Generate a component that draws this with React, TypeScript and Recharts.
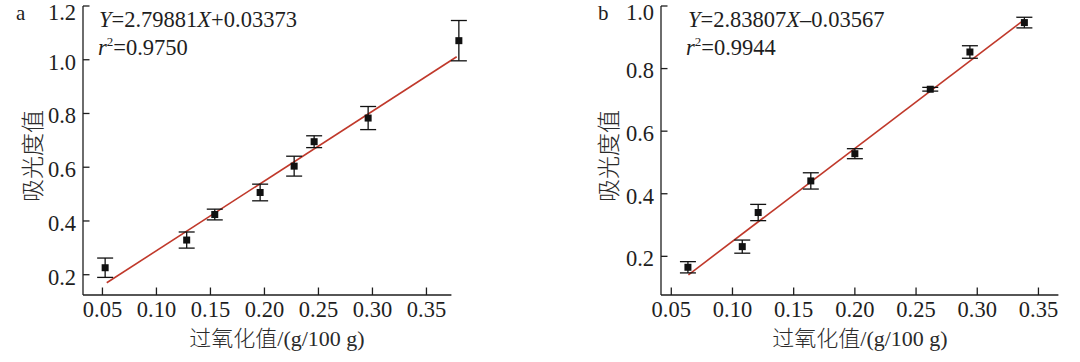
import { ComposedChart, Scatter, Line, XAxis, YAxis, ErrorBar, ReferenceLine, Label } from "recharts"

// x ticks shared by both panels
const xTicks = [0.05, 0.1, 0.15, 0.2, 0.25, 0.3, 0.35]
const yTicksA = [0.2, 0.4, 0.6, 0.8, 1.0, 1.2]
const yTicksB = [0.2, 0.4, 0.6, 0.8, 1.0]

// panel a: peroxide value vs absorbance
const pvA  = [0.0525, 0.128, 0.154, 0.196, 0.2275, 0.246, 0.296, 0.380]
const absA = [0.226, 0.329, 0.424, 0.506, 0.604, 0.695, 0.783, 1.071]
const errA = [0.036, 0.030, 0.020, 0.031, 0.037, 0.022, 0.043, 0.075]
const fitXA = [0.054, 0.378]
const fitYA = [0.170, 1.011]

// panel b
const pvB  = [0.0636, 0.108, 0.121, 0.164, 0.200, 0.2616, 0.294, 0.3385]
const absB = [0.165, 0.231, 0.340, 0.441, 0.528, 0.734, 0.853, 0.947]
const errB = [0.018, 0.021, 0.026, 0.026, 0.016, 0.006, 0.020, 0.017]
const fitXB = [0.064, 0.338]
const fitYB = [0.141, 0.955]

const SERIF = "'Liberation Serif', 'Times New Roman', serif"
const CJK = "'Liberation Serif', 'Noto Sans CJK SC', serif"
const INK = "#1e1e1e"
const RED = "#c0392b"

const toPoints = (xs: number[], ys: number[], es: number[]) =>
  xs.map((x, i) => ({ x, y: ys[i], e: es[i] }))
const toLine = (xs: number[], ys: number[]) => xs.map((x, i) => ({ x, y: ys[i] }))

const Square = (p: any) => (
  <rect x={p.cx - 3.5} y={p.cy - 3.5} width={7} height={7} fill="#111" />
)

const XTick = (p: any) => (
  <text x={p.x} y={p.y} dy="0.71em" textAnchor="middle" fontFamily={SERIF} fontSize={22.5} fill={INK}>
    {Number(p.payload.value).toFixed(2)}
  </text>
)

// top label is kept inside the picture, as in the original figure
const YTick = (p: any) => (
  <text x={p.x} y={Math.max(p.y + 2, 12.5)} dy="0.35em" textAnchor="end" fontFamily={SERIF} fontSize={22.5} fill={INK}>
    {Number(p.payload.value).toFixed(1)}
  </text>
)

interface PanelProps {
  points: { x: number; y: number; e: number }[]
  fit: { x: number; y: number }[]
  xDomain: [number, number]
  yDomain: [number, number]
  yTicks: number[]
  yAxisWidth: number
  marginRight: number
  axisEnd?: number
  xTitleX: number
  yTitleX: number
}

function Panel(p: PanelProps) {
  return (
    <ComposedChart
      width={540}
      height={362}
      margin={{ top: 6, right: p.marginRight, bottom: 0, left: 0 }}
    >
      <XAxis
        type="number"
        dataKey="x"
        domain={p.xDomain}
        ticks={xTicks}
        height={67}
        axisLine={p.axisEnd === undefined ? { stroke: INK, strokeWidth: 1.3 } : false}
        tickLine={{ stroke: INK, strokeWidth: 1.3 }}
        tickSize={-7.5}
        tickMargin={13.5}
        tick={<XTick />}
        interval={0}
      >
        <Label
          content={() => (
            <text x={p.xTitleX} y={346} textAnchor="middle" fontFamily={CJK} fontWeight={300} fontSize={22} fill="#2a2a2a">
              过氧化值/(g/100 g)
            </text>
          )}
        />
      </XAxis>
      <YAxis
        type="number"
        dataKey="y"
        domain={p.yDomain}
        ticks={p.yTicks}
        width={p.yAxisWidth}
        axisLine={{ stroke: INK, strokeWidth: 1.3 }}
        tickLine={{ stroke: INK, strokeWidth: 1.3 }}
        tickSize={-6.5}
        tickMargin={13.5}
        tick={<YTick />}
        interval={0}
      >
        <Label
          content={() => (
            <text
              x={p.yTitleX}
              y={156}
              transform={`rotate(-90 ${p.yTitleX} 156)`}
              textAnchor="middle"
              dominantBaseline="central"
              fontFamily="'Noto Sans CJK SC', sans-serif"
              fontWeight={300}
              fontSize={23}
              fill="#2a2a2a"
            >
              吸光度值
            </text>
          )}
        />
      </YAxis>
      {p.axisEnd !== undefined && (
        <ReferenceLine
          segment={[
            { x: p.xDomain[0], y: p.yDomain[0] },
            { x: p.axisEnd, y: p.yDomain[0] },
          ]}
          stroke={INK}
          strokeWidth={1.3}
          ifOverflow="visible"
        />
      )}
      <Line
        data={p.fit}
        dataKey="y"
        type="linear"
        stroke={RED}
        strokeWidth={1.6}
        dot={false}
        activeDot={false}
        isAnimationActive={false}
      />
      <Scatter data={p.points} dataKey="y" shape={Square} isAnimationActive={false}>
        <ErrorBar dataKey="e" direction="y" width={8} stroke="#111" strokeWidth={1.3} isAnimationActive={false} />
      </Scatter>
    </ComposedChart>
  )
}

export default function App() {
  return (
    <div style={{ position: "absolute", left: 0, top: 0, width: 1080, height: 362, background: "#fff" }}>
      <div style={{ position: "absolute", left: 0, top: 0 }}>
        <Panel
          points={toPoints(pvA, absA, errA)}
          fit={toLine(fitXA, fitYA)}
          xDomain={[0.032, 0.388]}
          yDomain={[0.1245, 1.2]}
          yTicks={yTicksA}
          yAxisWidth={83}
          marginRight={72.5}
          axisEnd={0.3731}
          xTitleX={277}
          yTitleX={31}
        />
      </div>
      <div style={{ position: "absolute", left: 540, top: 0 }}>
        <Panel
          points={toPoints(pvB, absB, errB)}
          fit={toLine(fitXB, fitYB)}
          xDomain={[0.0416, 0.3663]}
          yDomain={[0.0764, 1.0]}
          yTicks={yTicksB}
          yAxisWidth={121}
          marginRight={21.6}
          xTitleX={320}
          yTitleX={67}
        />
      </div>
      <svg
        width={1080}
        height={362}
        style={{ position: "absolute", left: 0, top: 0, pointerEvents: "none" }}
        fontFamily={SERIF}
        fontSize={22.5}
        fill={INK}
      >
        <text x={16} y={20} fontSize={21}>a</text>
        <text x={99} y={27}>
          <tspan fontStyle="italic">Y</tspan>=2.79881<tspan fontStyle="italic">X</tspan>+0.03373
        </text>
        <text x={98} y={55}>
          <tspan fontStyle="italic">r</tspan>
          <tspan fontSize={13} dy={-9}>2</tspan>
          <tspan dy={9}>=0.9750</tspan>
        </text>
        <text x={598} y={20} fontSize={21}>b</text>
        <text x={688} y={27}>
          <tspan fontStyle="italic">Y</tspan>=2.83807<tspan fontStyle="italic">X</tspan>–0.03567
        </text>
        <text x={686} y={55}>
          <tspan fontStyle="italic">r</tspan>
          <tspan fontSize={13} dy={-9}>2</tspan>
          <tspan dy={9}>=0.9944</tspan>
        </text>
      </svg>
    </div>
  )
}
